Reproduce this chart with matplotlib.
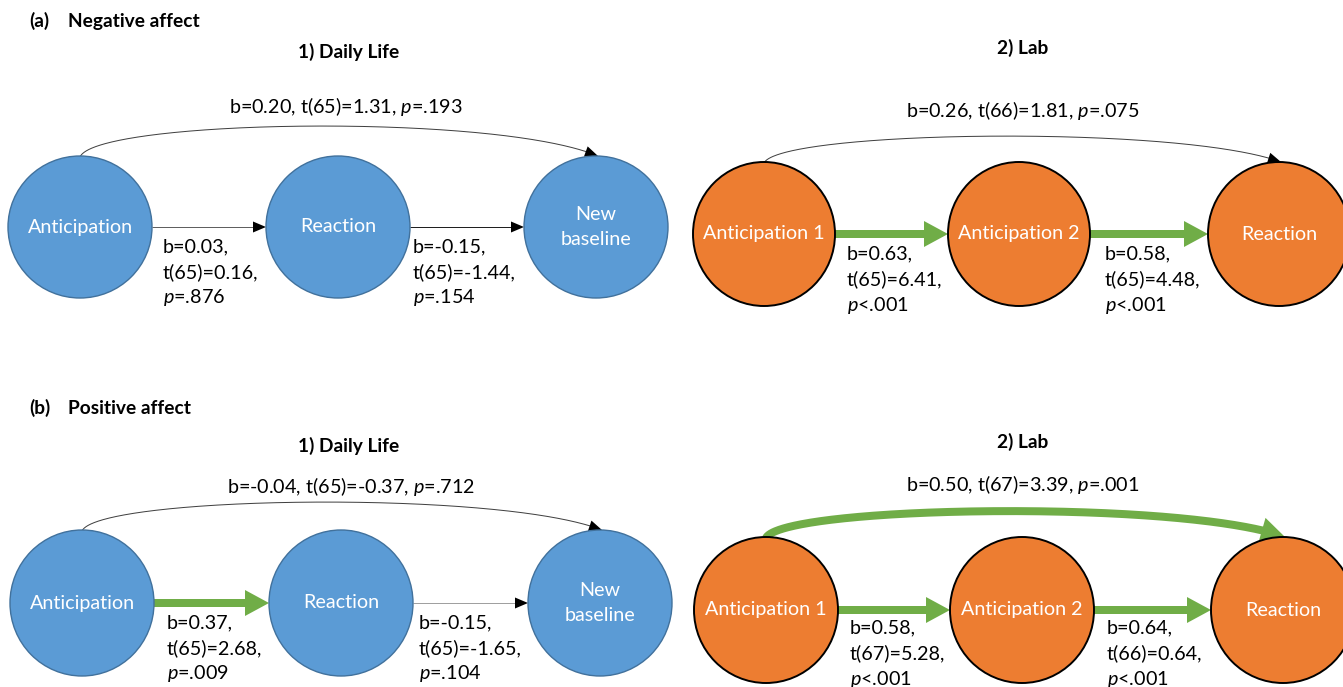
import numpy as np
import matplotlib
matplotlib.use("Agg")
import matplotlib.pyplot as plt
from matplotlib.patches import Ellipse, Polygon

plt.rcParams['font.family'] = ['Lato', 'DejaVu Sans']
plt.rcParams['mathtext.fontset'] = 'custom'
plt.rcParams['mathtext.rm'] = 'Lato'
plt.rcParams['mathtext.it'] = 'Lato:italic'
plt.rcParams['mathtext.bf'] = 'Lato:bold'

# ---------------- model estimates ----------------
daily_nodes = ["Anticipation", "Reaction", "New\nbaseline"]
lab_nodes = ["Anticipation 1", "Anticipation 2", "Reaction"]

# order of paths: step 1 (node0->node1), step 2 (node1->node2), direct (node0->node2)
neg_daily_b = [0.03, -0.15, 0.20]
neg_daily_df = [65, 65, 65]
neg_daily_t = [0.16, -1.44, 1.31]
neg_daily_p = ["=.876", "=.154", "=.193"]

neg_lab_b = [0.63, 0.58, 0.26]
neg_lab_df = [65, 65, 66]
neg_lab_t = [6.41, 4.48, 1.81]
neg_lab_p = ["<.001", "<.001", "=.075"]

pos_daily_b = [0.37, -0.15, -0.04]
pos_daily_df = [65, 65, 65]
pos_daily_t = [2.68, -1.65, -0.37]
pos_daily_p = ["=.009", "=.104", "=.712"]

pos_lab_b = [0.58, 0.64, 0.50]
pos_lab_df = [67, 66, 67]
pos_lab_t = [5.28, 0.64, 3.39]
pos_lab_p = ["<.001", "<.001", "=.001"]

section_titles = ["(a)", "(b)"]
section_names = ["Negative affect", "Positive affect"]
panel_titles = ["1) Daily Life", "2) Lab"]

# ---------------- styling ----------------
BLUE, BLUE_EDGE = "#5B9BD5", "#41719C"
ORANGE = "#ED7D31"
GREEN = "#70AD47"
FS = 14.2
FS_BOLD = 13.8

W, H = 1343, 687
fig = plt.figure(figsize=(W / 100, H / 100), dpi=100)
ax = fig.add_axes([0, 0, 1, 1])
ax.set_xlim(0, W)
ax.set_ylim(H, 0)
ax.axis("off")


def is_sig(p):
    return float(p.lstrip("<=")) < 0.05


def fmt_num(v):
    return f"{v:.2f}"


def draw_arrow(pts, sig, thin_color="#404040"):
    """Polyline with a triangular head at its last point."""
    pts = np.asarray(pts, dtype=float)
    if sig:
        lw_px, hl, hw, lc, hc = 8.0, 24.0, 26.0, GREEN, GREEN
    else:
        lw_px, hl, hw, lc, hc = 1.0, 13.0, 11.0, thin_color, "black"
    tip = pts[-1]
    d = np.hypot(*(pts - tip).T)
    idx = np.where(d >= hl)[0][-1]
    base = pts[idx]
    u = (tip - base) / np.hypot(*(tip - base))
    nrm = np.array([-u[1], u[0]])
    base = tip - u * hl
    line = np.vstack([pts[:idx + 1], base + u * 1.0])
    ax.plot(line[:, 0], line[:, 1], color=lc, lw=lw_px * 0.72,
            solid_capstyle="butt", zorder=2)
    head = [tip, base + nrm * hw / 2, base - nrm * hw / 2]
    ax.add_patch(Polygon(head, closed=True, color=hc, lw=0, zorder=3))


def bezier(p0, p1, p2, p3, n=300):
    t = np.linspace(0, 1, n)[:, None]
    return ((1 - t) ** 3 * p0 + 3 * (1 - t) ** 2 * t * p1
            + 3 * (1 - t) * t ** 2 * p2 + t ** 3 * p3)


def panel(nodes, b, df, t, p, cx, cy, rx, ry, fill, edge, elw,
          lift, title_x, top_label_y, lbl_dx, lbl_dy, thin_colors):
    # direct path over the top
    p0 = np.array([cx[0], cy - ry + 1])
    p3 = np.array([cx[2] + 2, cy - ry])
    L = p3[0] - p0[0]
    c1 = np.array([p0[0] + 0.03 * L, p0[1] - lift * 1.25])
    c2 = np.array([p3[0] - 0.2 * L, p3[1] - lift * 1.45])
    draw_arrow(bezier(p0, c1, c2, p3), is_sig(p[2]))
    ax.text(title_x, top_label_y,
            f"b={fmt_num(b[2])}, t({df[2]})={fmt_num(t[2])}, $\\mathit{{p}}${p[2]}",
            ha="center", va="center", fontsize=FS)

    # chain paths
    for i in range(2):
        x0 = cx[i] + rx
        x1 = cx[i + 1] - rx
        draw_arrow([[x0, cy], [x1, cy]], is_sig(p[i]), thin_colors[i])
        lines = [f"b={fmt_num(b[i])},", f"t({df[i]})={fmt_num(t[i])},",
                 f"$\\mathit{{p}}${p[i]}"]
        for k, s in enumerate(lines):
            ax.text(x0 + lbl_dx[i], cy + lbl_dy + 25.5 * k, s,
                    ha="left", va="center", fontsize=FS)

    # nodes
    for x, name in zip(cx, nodes):
        ax.add_patch(Ellipse((x, cy), 2 * rx, 2 * ry, facecolor=fill,
                             edgecolor=edge, lw=elw, zorder=4))
        ax.text(x, cy, name, ha="center", va="center", color="white",
                fontsize=FS, linespacing=1.55, zorder=5)


DX_DAILY, DX_LAB = 349, 1023

# section headers
for y, tag, name in zip([21, 408], section_titles, section_names):
    ax.text(29, y, tag, ha="left", va="center", fontsize=FS_BOLD, fontweight="bold")
    ax.text(68, y, name, ha="left", va="center", fontsize=FS_BOLD, fontweight="bold")
for y0 in [0, 394]:
    ax.text(DX_DAILY, 52 + y0, panel_titles[0], ha="center", va="center",
            fontsize=FS_BOLD, fontweight="bold")
    ax.text(DX_LAB, 48 + y0, panel_titles[1], ha="center", va="center",
            fontsize=FS_BOLD, fontweight="bold")

# (a) negative affect
panel(daily_nodes, neg_daily_b, neg_daily_df, neg_daily_t, neg_daily_p,
      cx=[80, 338, 596], cy=227, rx=72, ry=71, fill=BLUE, edge=BLUE_EDGE, elw=1.0,
      lift=30, title_x=346, top_label_y=107, lbl_dx=[11, 3], lbl_dy=20,
      thin_colors=["#606060", "#202020"])
panel(lab_nodes, neg_lab_b, neg_lab_df, neg_lab_t, neg_lab_p,
      cx=[764, 1019, 1279], cy=234, rx=71, ry=72, fill=ORANGE, edge="black", elw=1.4,
      lift=26, title_x=DX_LAB, top_label_y=110, lbl_dx=[12, 15], lbl_dy=20,
      thin_colors=["#404040", "#404040"])

# (b) positive affect
panel(daily_nodes, pos_daily_b, pos_daily_df, pos_daily_t, pos_daily_p,
      cx=[82, 341, 600], cy=603, rx=72, ry=73, fill=BLUE, edge=BLUE_EDGE, elw=1.0,
      lift=28, title_x=351, top_label_y=486, lbl_dx=[13, 6], lbl_dy=20,
      thin_colors=["#404040", "#A0A0A0"])
panel(lab_nodes, pos_lab_b, pos_lab_df, pos_lab_t, pos_lab_p,
      cx=[766, 1022, 1283], cy=610, rx=72, ry=73, fill=ORANGE, edge="black", elw=1.4,
      lift=26, title_x=DX_LAB, top_label_y=485, lbl_dx=[12, 13], lbl_dy=18,
      thin_colors=["#404040", "#404040"])

fig.savefig("out.png", dpi=100)
